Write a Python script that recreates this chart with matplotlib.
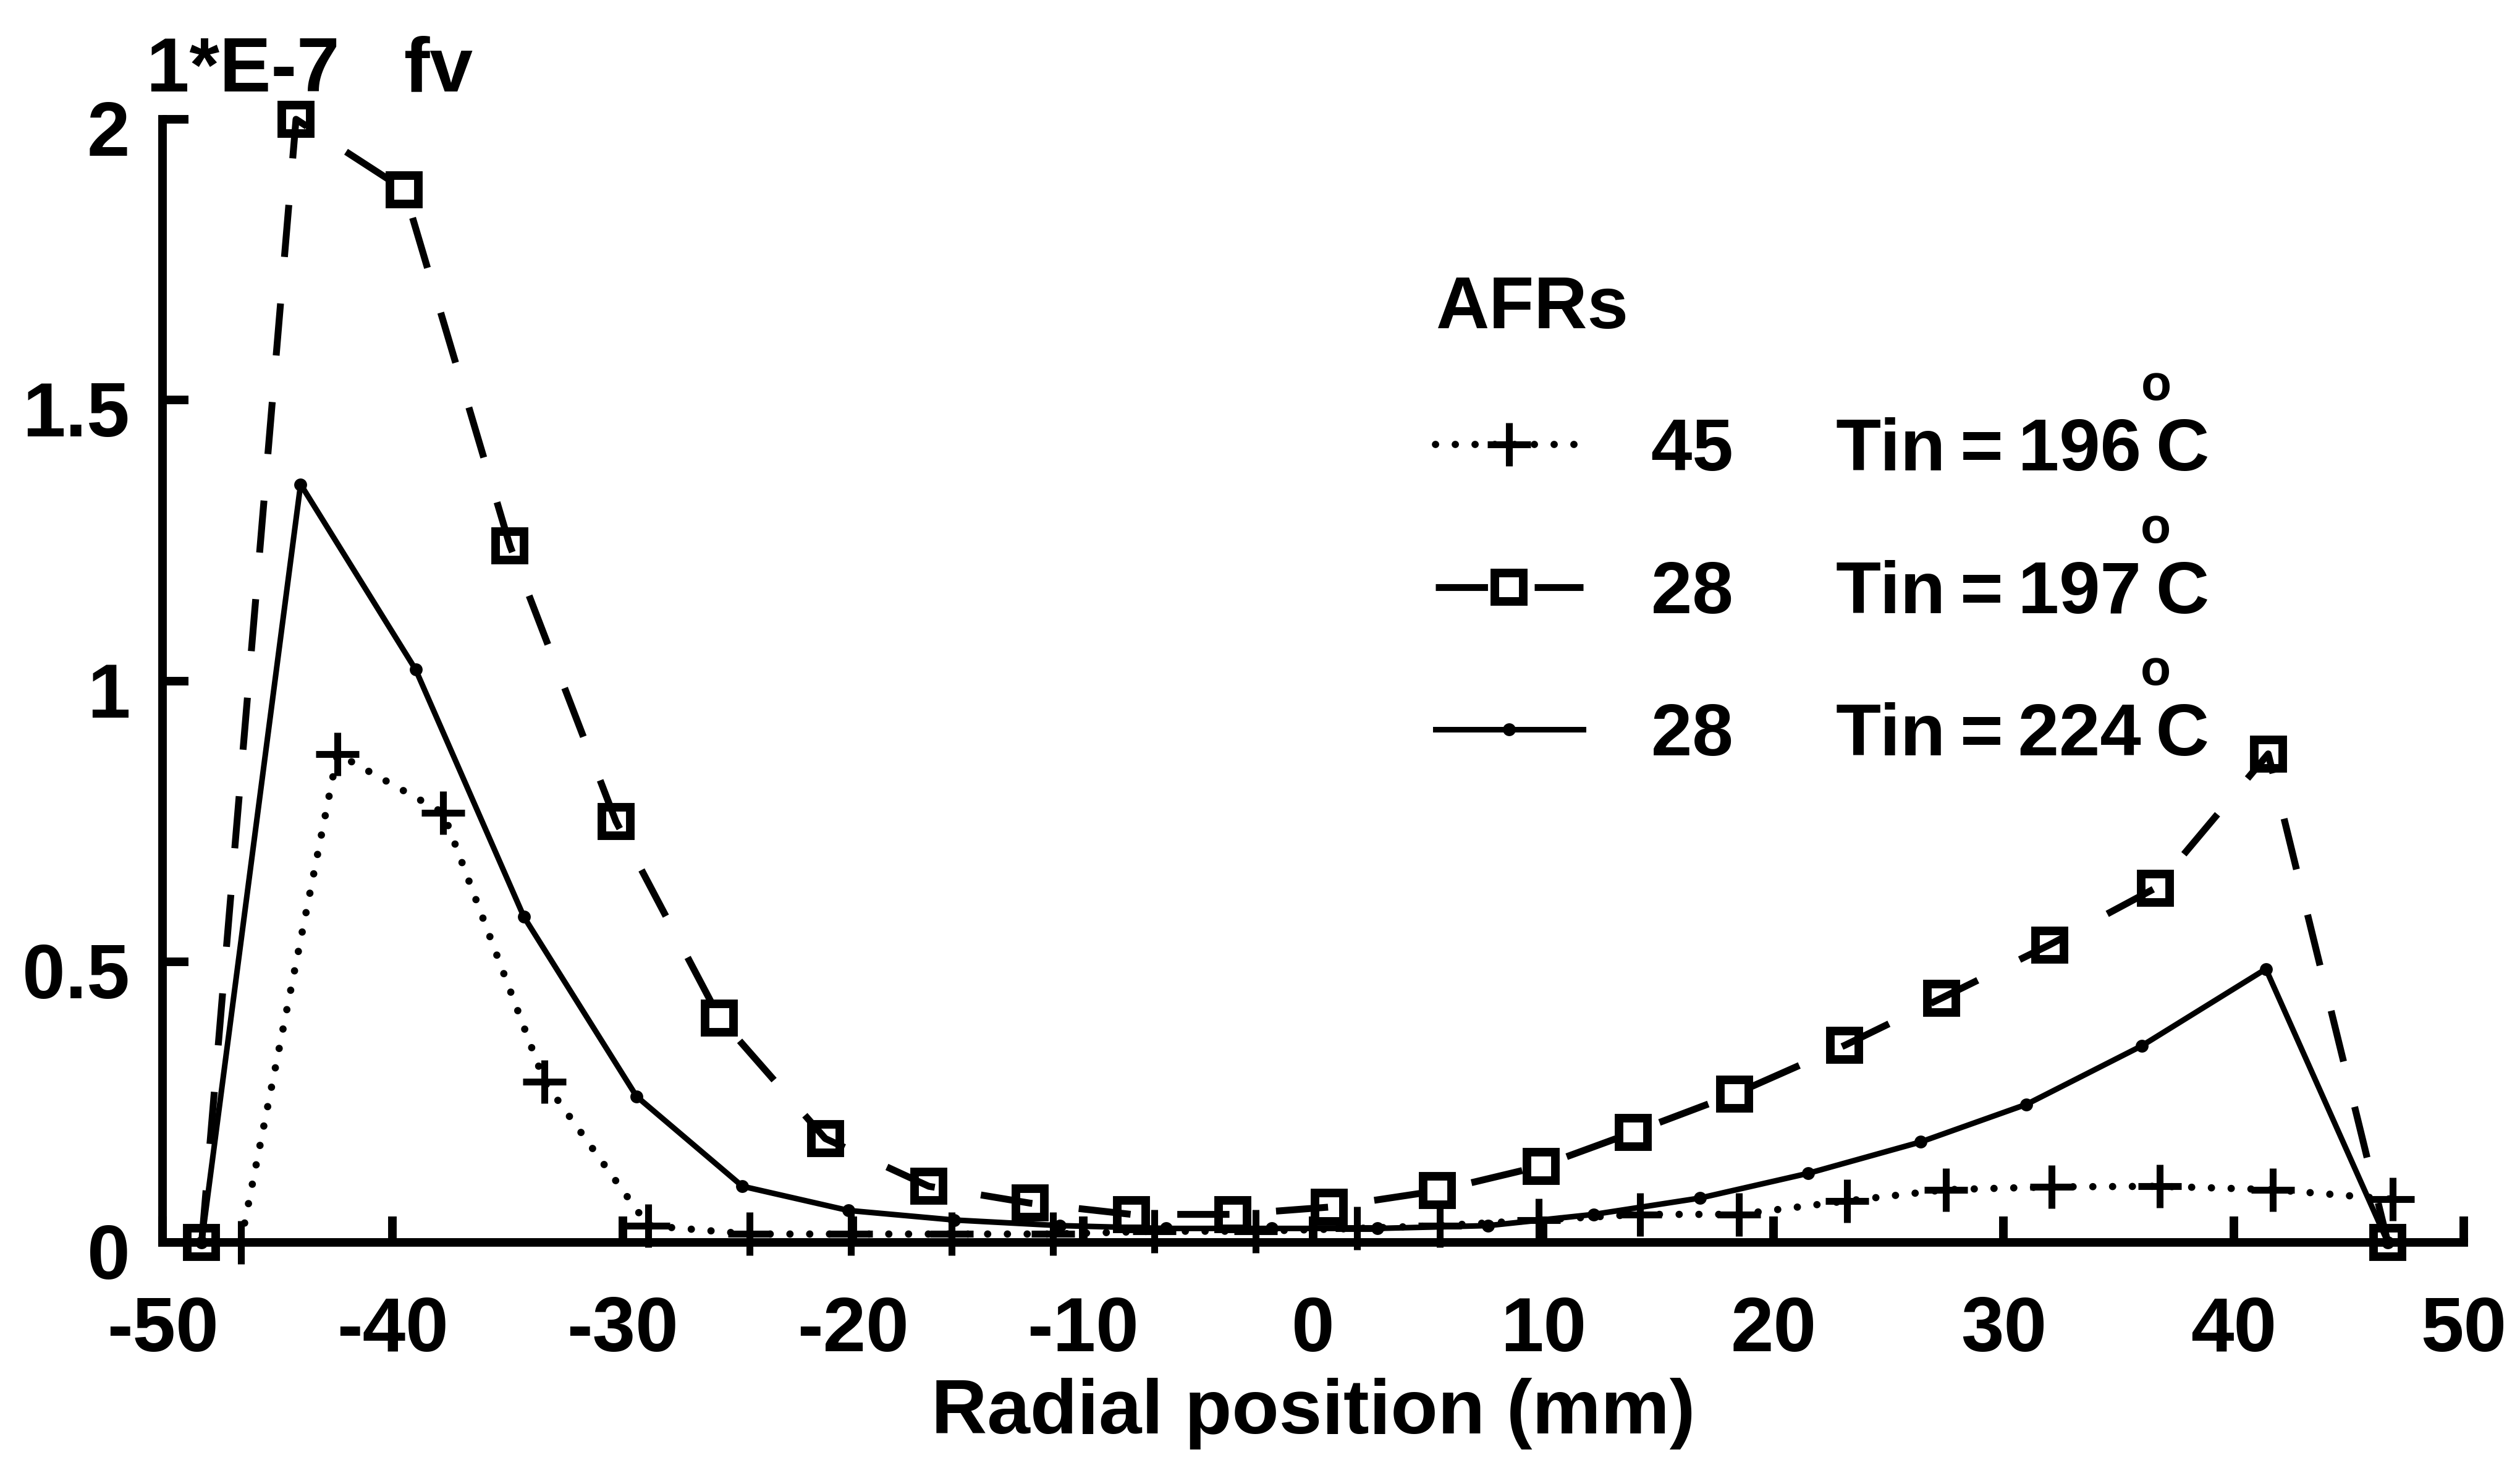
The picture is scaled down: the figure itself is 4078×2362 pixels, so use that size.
import matplotlib
matplotlib.use("Agg")
import matplotlib.pyplot as plt
from matplotlib.transforms import ScaledTranslation

plt.rcParams["font.family"] = ["Liberation Sans", "DejaVu Sans"]
plt.rcParams["font.weight"] = "bold"
plt.rcParams["axes.labelweight"] = "bold"
plt.rcParams["axes.unicode_minus"] = False

# Radial soot volume fraction profiles (units of 1e-7)
afr45_t196_x = [-46.6, -42.4, -37.8, -33.4, -28.9, -24.5, -20.1, -15.7, -11.3, -6.9, -2.5,
                1.9, 5.5, 9.8, 14.2, 18.5, 23.2, 27.5, 32.1, 36.8, 41.7, 46.9]
afr45_t196_fv = [0.0, 0.87, 0.765, 0.286, 0.03, 0.015, 0.015, 0.015, 0.015, 0.02, 0.02,
                 0.025, 0.03, 0.04, 0.05, 0.05, 0.074, 0.094, 0.099, 0.10, 0.094, 0.077]

afr28_t197_x = [-48.3, -44.2, -39.5, -34.9, -30.3, -25.8, -21.2, -16.7, -12.3, -7.9, -3.5,
                0.7, 5.4, 9.9, 13.9, 18.3, 23.1, 27.3, 32.0, 36.6, 41.5, 46.7]
afr28_t197_fv = [0.0, 2.0, 1.875, 1.24, 0.75, 0.40, 0.185, 0.10, 0.07, 0.05, 0.05,
                 0.063, 0.092, 0.136, 0.196, 0.264, 0.351, 0.435, 0.53, 0.631, 0.87, 0.0]

afr28_t224_x = [-48.3, -44.0, -39.0, -34.3, -29.4, -24.8, -20.2, -15.6, -11.0, -6.4, -1.8,
                2.8, 7.6, 12.2, 16.8, 21.5, 26.4, 31.0, 36.0, 41.4, 46.7]
afr28_t224_fv = [0.0, 1.35, 1.02, 0.58, 0.26, 0.10, 0.057, 0.04, 0.03, 0.025, 0.025,
                 0.025, 0.03, 0.05, 0.079, 0.123, 0.179, 0.246, 0.35, 0.487, 0.0]

x_ticks = [-50, -40, -30, -20, -10, 0, 10, 20, 30, 40, 50]
y_ticks = [0, 0.5, 1, 1.5, 2]
series_labels = [
    "45     Tin\u2009=\u2009196\u2009C",
    "28     Tin\u2009=\u2009197\u2009C",
    "28     Tin\u2009=\u2009224\u2009C",
]

fig = plt.figure(figsize=(40.78, 23.62), dpi=100)
ax = fig.add_axes([0.0645, 0.149, 0.9132, 0.7693])

ax.plot(afr45_t196_x, afr45_t196_fv, color="black", lw=8.5,
        linestyle=(0, (0.01, 2.7)), dash_capstyle="round",
        marker="+", ms=50, mew=8, clip_on=False, label=series_labels[0])
ax.plot(afr28_t197_x, afr28_t197_fv, color="black", lw=8,
        linestyle=(0, (7.6, 6.8)), marker="s", ms=33, mew=10,
        mfc="none", clip_on=False, label=series_labels[1])
ax.plot(afr28_t224_x, afr28_t224_fv, color="black", lw=6.5, linestyle="-",
        marker="o", ms=15, mew=0, clip_on=False, label=series_labels[2])

ax.set_xlim(-50, 50)
ax.set_ylim(0, 2)
ax.set_xticks(x_ticks)
ax.set_xticklabels([str(v) for v in x_ticks])
ax.set_yticks(y_ticks)
ax.set_yticklabels(["%g" % v for v in y_ticks])

for side in ("top", "right"):
    ax.spines[side].set_visible(False)
for side in ("left", "bottom"):
    ax.spines[side].set_linewidth(10)

ax.tick_params(direction="in", length=30, width=10, labelsize=90)
ax.tick_params(axis="x", pad=62)
ax.tick_params(axis="y", pad=38)

# y tick labels sit slightly below their ticks
shift_down = ScaledTranslation(0, -0.14, fig.dpi_scale_trans)
for lbl in ax.get_yticklabels():
    lbl.set_transform(lbl.get_transform() + shift_down)

ax.set_xlabel("Radial position (mm)", fontsize=90, labelpad=12)
fig.text(0.058, 0.9378, "1*E-7   fv", fontsize=90, ha="left", va="baseline")

leg = ax.legend(loc="upper left", bbox_to_anchor=(0.555, 0.837),
                bbox_transform=fig.transFigure, frameon=False,
                title="AFRs", alignment="left", fontsize=86,
                title_fontsize=86, handlelength=2.0, handletextpad=0.92,
                labelspacing=1.0, borderpad=0, numpoints=1)

# raised "o" degree marks above each temperature unit
for t in leg.get_texts():
    ax.annotate("o", xy=(1, 1), xycoords=t, xytext=(-62, 20),
                textcoords="offset points", ha="center", va="baseline",
                fontsize=58, annotation_clip=False, zorder=10)

fig.canvas.draw()
fig.savefig("out.png", dpi=100)
